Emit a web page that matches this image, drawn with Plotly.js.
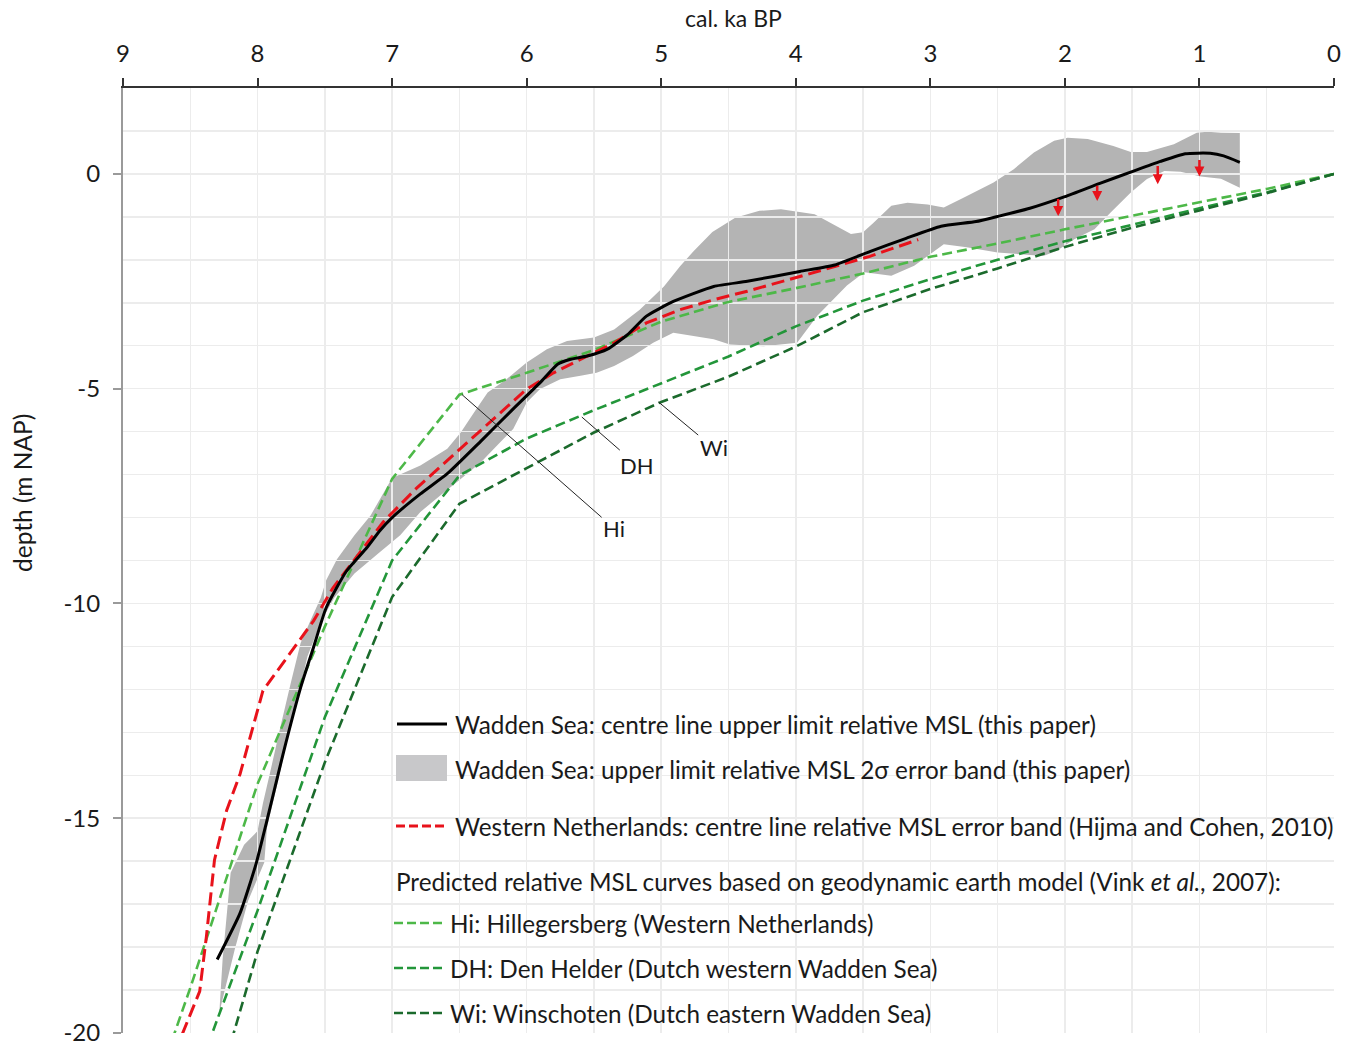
<!DOCTYPE html>
<html>
<head>
<meta charset="utf-8">
<script src="https://cdn.plot.ly/plotly-3.0.1.min.js"></script>
<style>html,body{margin:0;padding:0;background:#fff;}#chart{width:1355px;height:1046px;}</style>
</head>
<body>
<div id="chart"></div>
<script>
// ---- Data ----
// Wadden Sea centre line upper limit relative MSL
const centreAge = [8.30, 8.13, 8.01, 7.93, 7.81, 7.68, 7.585, 7.49, 7.34, 7.19, 7.09, 7.00, 6.79, 6.59, 6.34, 6.10, 5.90, 5.77, 5.68, 5.55, 5.40, 5.25, 5.11, 4.91, 4.61, 4.36, 3.97, 3.71, 3.45, 3.18, 2.92, 2.66, 2.50, 2.26, 2.00, 1.74, 1.47, 1.29, 1.105, 0.92, 0.82, 0.70];
const centreDepth = [-18.29, -17.21, -16.05, -15.05, -13.50, -11.96, -11.03, -10.10, -9.25, -8.71, -8.30, -8.00, -7.45, -6.98, -6.22, -5.47, -4.86, -4.43, -4.32, -4.24, -4.08, -3.74, -3.31, -2.97, -2.62, -2.50, -2.27, -2.12, -1.81, -1.50, -1.22, -1.11, -0.99, -0.80, -0.53, -0.22, 0.09, 0.29, 0.47, 0.48, 0.42, 0.27];

// 2-sigma error band outline (upper edge from oldest to youngest, then lower edge back)
const bandAge = [8.284, 8.26, 8.20, 8.10, 8.00, 7.96, 7.90, 7.83, 7.75, 7.68, 7.60, 7.53, 7.49, 7.41, 7.28, 7.16, 7.00, 6.79, 6.59, 6.49, 6.39, 6.29, 6.15, 6.00, 5.85, 5.70, 5.50, 5.35, 5.16, 4.98, 4.86, 4.76, 4.62, 4.45, 4.27, 4.11, 3.86, 3.59, 3.50, 3.42, 3.29, 3.17, 3.02, 2.90, 2.75, 2.53, 2.38, 2.23, 2.08, 1.98, 1.83, 1.64, 1.51, 1.39, 1.19, 1.02, 0.94, 0.84, 0.70,
  0.70, 0.84, 0.99, 1.14, 1.26, 1.39, 1.51, 1.66, 1.78, 1.93, 2.06, 2.16, 2.33, 2.50, 2.73, 2.90, 3.02, 3.12, 3.29, 3.49, 3.62, 3.84, 3.99, 4.24, 4.49, 4.61, 4.91, 5.06, 5.21, 5.35, 5.48, 5.60, 5.75, 5.90, 6.00, 6.10, 6.22, 6.34, 6.49, 6.64, 6.79, 6.94, 7.09, 7.28, 7.43, 7.53, 7.63, 7.70, 7.78, 7.85, 7.93, 7.95, 8.07, 8.17];
const bandDepth = [-19.52, -18.30, -16.27, -15.62, -15.30, -14.65, -13.84, -12.87, -11.81, -10.92, -10.35, -9.87, -9.46, -8.97, -8.41, -7.95, -7.08, -6.79, -6.40, -6.02, -5.55, -5.09, -4.78, -4.39, -4.08, -3.89, -3.81, -3.62, -3.16, -2.62, -2.15, -1.80, -1.35, -1.02, -0.86, -0.82, -0.94, -1.40, -1.36, -1.13, -0.74, -0.67, -0.71, -0.78, -0.55, -0.20, 0.11, 0.50, 0.77, 0.84, 0.81, 0.65, 0.51, 0.51, 0.69, 0.96, 0.98, 0.96, 0.95,
  -0.32, -0.11, -0.06, 0.05, 0.07, -0.12, -0.43, -0.90, -1.29, -1.52, -1.79, -1.91, -1.87, -1.83, -1.71, -1.64, -1.91, -2.14, -2.37, -2.29, -2.60, -3.30, -3.93, -4.01, -3.97, -3.85, -3.70, -3.93, -4.24, -4.47, -4.63, -4.70, -4.78, -5.01, -5.32, -5.94, -6.32, -6.71, -7.10, -7.48, -7.87, -8.41, -8.80, -9.30, -9.87, -10.43, -11.24, -12.22, -13.19, -14.16, -15.22, -16.03, -16.92, -18.06];

// Western Netherlands (Hijma and Cohen, 2010)
const westAge = [8.56, 8.43, 8.38, 8.32, 8.23, 8.13, 7.96, 7.88, 7.73, 7.585, 7.44, 7.29, 7.065, 6.82, 6.52, 6.27, 6.00, 5.80, 5.60, 5.35, 5.11, 4.86, 4.61, 4.36, 3.97, 3.45, 3.09];
const westDepth = [-20.03, -19.03, -17.75, -15.97, -14.82, -13.97, -12.03, -11.69, -11.03, -10.41, -9.64, -9.02, -8.10, -7.32, -6.47, -5.78, -5.01, -4.63, -4.32, -3.93, -3.47, -3.16, -2.93, -2.73, -2.39, -1.92, -1.53];

// Predicted curves (Vink et al., 2007)
const hiAge = [0, 0.5, 1.0, 1.5, 2.0, 2.5, 3.0, 3.5, 4.0, 4.5, 5.0, 5.5, 6.0, 6.5, 7.0, 7.5, 8.0, 8.5, 8.62];
const hiDepth = [0, -0.35, -0.66, -0.97, -1.29, -1.62, -1.93, -2.32, -2.66, -2.98, -3.44, -4.10, -4.63, -5.14, -7.10, -10.54, -14.20, -18.95, -20.03];
const dhAge = [0, 0.5, 1.0, 1.5, 2.0, 2.5, 3.0, 3.5, 4.0, 4.5, 5.0, 5.5, 6.0, 6.5, 7.0, 7.5, 8.0, 8.34];
const dhDepth = [0, -0.43, -0.80, -1.18, -1.57, -2.00, -2.45, -2.95, -3.55, -4.25, -4.87, -5.50, -6.16, -7.02, -9.00, -12.65, -17.15, -20.03];
const wiAge = [0, 0.5, 1.0, 1.5, 2.0, 2.5, 3.0, 3.5, 4.0, 4.5, 5.0, 5.5, 6.0, 6.5, 7.0, 7.5, 8.0, 8.18];
const wiDepth = [0, -0.45, -0.85, -1.25, -1.70, -2.20, -2.68, -3.22, -4.02, -4.72, -5.31, -6.02, -6.85, -7.68, -9.85, -13.70, -18.10, -20.03];

// Red "upper limit" arrows
const arrowAge = [2.05, 1.76, 1.31, 1.00];
const arrowTop = [-0.55, -0.24, 0.22, 0.36];
const arrowTip = [-0.98, -0.63, -0.24, -0.06];

// Curve labels with leader lines
const labelText = ['Hi', 'DH', 'Wi'];
const labelPointAge = [6.48, 5.59, 5.02];
const labelPointDepth = [-5.14, -5.66, -5.31];
const labelTextAge = [5.35, 5.18, 4.61];
const labelTextDepth = [-8.25, -6.78, -6.38];

// Axis ticks
const xTicks = [9, 8, 7, 6, 5, 4, 3, 2, 1, 0];
const yTicks = [0, -5, -10, -15, -20];

// Titles and legend texts
const xTitle = 'cal. ka BP';
const yTitle = 'depth (m NAP)';
const legendTexts = [
  'Wadden Sea: centre line upper limit relative MSL (this paper)',
  'Wadden Sea: upper limit relative MSL 2σ error band (this paper)',
  'Western Netherlands: centre line relative MSL error band (Hijma and Cohen, 2010)',
  'Predicted relative MSL curves based on geodynamic earth model (Vink <i>et al.</i>, 2007):',
  'Hi: Hillegersberg (Western Netherlands)',
  'DH: Den Helder (Dutch western Wadden Sea)',
  'Wi: Winschoten (Dutch eastern Wadden Sea)'
];

// ---- Styling ----
const FONT = 'Lato, "Open Sans", sans-serif';
const TXT = '#1a1a1a';
const C_BLACK = '#000000', C_RED = '#e8121b', C_HI = '#4db848', C_DH = '#23963a', C_WI = '#1b6a2c';
const C_BAND = '#b4b4b4', C_BAND_LEG = '#c8c8ca';
const GRID = '#ececec';

const traces = [
  {x: hiAge, y: hiDepth, mode: 'lines', line: {color: C_HI, width: 2.6, dash: '10px,5px'}, hoverinfo: 'skip'},
  {x: dhAge, y: dhDepth, mode: 'lines', line: {color: C_DH, width: 2.6, dash: '10px,5px'}, hoverinfo: 'skip'},
  {x: wiAge, y: wiDepth, mode: 'lines', line: {color: C_WI, width: 2.6, dash: '10px,5px'}, hoverinfo: 'skip'},
  {x: westAge, y: westDepth, mode: 'lines', line: {color: C_RED, width: 3, dash: '13px,6px'}, hoverinfo: 'skip'},
  {x: centreAge, y: centreDepth, mode: 'lines', line: {color: C_BLACK, width: 3, shape: 'spline', smoothing: 0.5}, hoverinfo: 'skip'}
];

// band as a data-space path below the grid lines
let bandPath = '';
for (let i = 0; i < bandAge.length; i++) {
  bandPath += (i === 0 ? 'M ' : ' L ') + bandAge[i] + ',' + bandDepth[i];
}
bandPath += ' Z';

const shapes = [
  {type: 'path', xref: 'x', yref: 'y', path: bandPath, fillcolor: C_BAND, line: {width: 0}, layer: 'below'}
];

// plot area in pixels: x 123..1334, y 88..1033
const PL = 123, PR = 1334, PT = 88, PB = 1033;
const px = v => (v - PL) / (PR - PL);
const py = v => (PB - v) / (PB - PT);
shapes.push({type: 'rect', xref: 'paper', yref: 'paper', x0: px(381), x1: px(1345), y0: py(1036), y1: py(692), fillcolor: '#ffffff', line: {width: 0}, layer: 'between'});
shapes.push({type: 'line', xref: 'paper', yref: 'paper', x0: px(397), x1: px(447), y0: py(724), y1: py(724), line: {color: C_BLACK, width: 3}});
shapes.push({type: 'rect', xref: 'paper', yref: 'paper', x0: px(396), x1: px(447), y0: py(781), y1: py(755), fillcolor: C_BAND_LEG, line: {width: 0}});
shapes.push({type: 'line', xref: 'paper', yref: 'paper', x0: px(396), x1: px(447), y0: py(826), y1: py(826), line: {color: C_RED, width: 3, dash: '9px,4px'}});
shapes.push({type: 'line', xref: 'paper', yref: 'paper', x0: px(394), x1: px(444), y0: py(923), y1: py(923), line: {color: C_HI, width: 2.6, dash: '9px,4px'}});
shapes.push({type: 'line', xref: 'paper', yref: 'paper', x0: px(394), x1: px(444), y0: py(968), y1: py(968), line: {color: C_DH, width: 2.6, dash: '9px,4px'}});
shapes.push({type: 'line', xref: 'paper', yref: 'paper', x0: px(394), x1: px(444), y0: py(1013), y1: py(1013), line: {color: C_WI, width: 2.6, dash: '9px,4px'}});

const annotations = [];
const legX = [453, 453, 453, 394, 448, 448, 448];
const legY = [724, 769, 826, 881, 923, 968, 1013];
for (let i = 0; i < legendTexts.length; i++) {
  annotations.push({xref: 'paper', yref: 'paper', x: px(legX[i]), y: py(legY[i]), xanchor: 'left', yanchor: 'middle',
    text: legendTexts[i], showarrow: false, font: {family: FONT, size: 24.3, color: TXT}});
}
for (let i = 0; i < arrowAge.length; i++) {
  annotations.push({xref: 'x', yref: 'y', axref: 'x', ayref: 'y', x: arrowAge[i], y: arrowTip[i], ax: arrowAge[i], ay: arrowTop[i],
    text: '', showarrow: true, arrowhead: 2, arrowsize: 0.8, arrowwidth: 2.5, arrowcolor: C_RED, standoff: 0, startstandoff: 0});
}
for (let i = 0; i < labelText.length; i++) {
  annotations.push({xref: 'x', yref: 'y', axref: 'x', ayref: 'y', x: labelPointAge[i], y: labelPointDepth[i], ax: labelTextAge[i], ay: labelTextDepth[i],
    text: labelText[i], showarrow: true, arrowhead: 0, arrowwidth: 1, arrowcolor: '#222', standoff: 0,
    font: {family: FONT, size: 22, color: TXT}});
}
// axis titles
annotations.push({xref: 'paper', yref: 'paper', x: px(733), y: py(18), xanchor: 'center', yanchor: 'middle',
  text: xTitle, showarrow: false, font: {family: FONT, size: 23, color: TXT}});
annotations.push({xref: 'paper', yref: 'paper', x: px(22), y: py(493), xanchor: 'center', yanchor: 'middle', textangle: -90,
  text: yTitle, showarrow: false, font: {family: FONT, size: 24.5, color: TXT}});

const layout = {
  width: 1355, height: 1046,
  margin: {l: PL, r: 1355 - PR, t: PT, b: 1046 - PB, pad: 0},
  paper_bgcolor: '#ffffff', plot_bgcolor: '#ffffff',
  showlegend: false,
  font: {family: FONT, color: TXT},
  xaxis: {
    side: 'top', range: [9, 0], tickvals: xTicks, ticktext: xTicks.map(String),
    showgrid: true, gridcolor: GRID, gridwidth: 1.5,
    minor: {dtick: 0.5, tick0: 0, showgrid: true, gridcolor: GRID, gridwidth: 1.5, ticks: ''},
    showline: true, linecolor: '#333333', linewidth: 2,
    ticks: 'outside', ticklen: 8, tickwidth: 2, tickcolor: '#333333',
    tickfont: {family: FONT, size: 24, color: TXT}, ticklabelstandoff: 6, ticklabeloverflow: 'allow',
    zeroline: false, fixedrange: true
  },
  yaxis: {
    range: [-20, 2], tickvals: yTicks, ticktext: yTicks.map(String),
    showgrid: true, gridcolor: GRID, gridwidth: 1.5,
    minor: {dtick: 1, tick0: 0, showgrid: true, gridcolor: GRID, gridwidth: 1.5, ticks: ''},
    showline: true, linecolor: '#9a9a9a', linewidth: 2,
    ticks: 'outside', ticklen: 8, tickwidth: 2, tickcolor: '#9a9a9a',
    tickfont: {family: FONT, size: 24, color: TXT}, ticklabelstandoff: 8, ticklabeloverflow: 'allow',
    zeroline: false, fixedrange: true
  },
  shapes: shapes,
  annotations: annotations
};

Plotly.newPlot('chart', traces, layout, {displayModeBar: false, staticPlot: true});
</script>
</body>
</html>
